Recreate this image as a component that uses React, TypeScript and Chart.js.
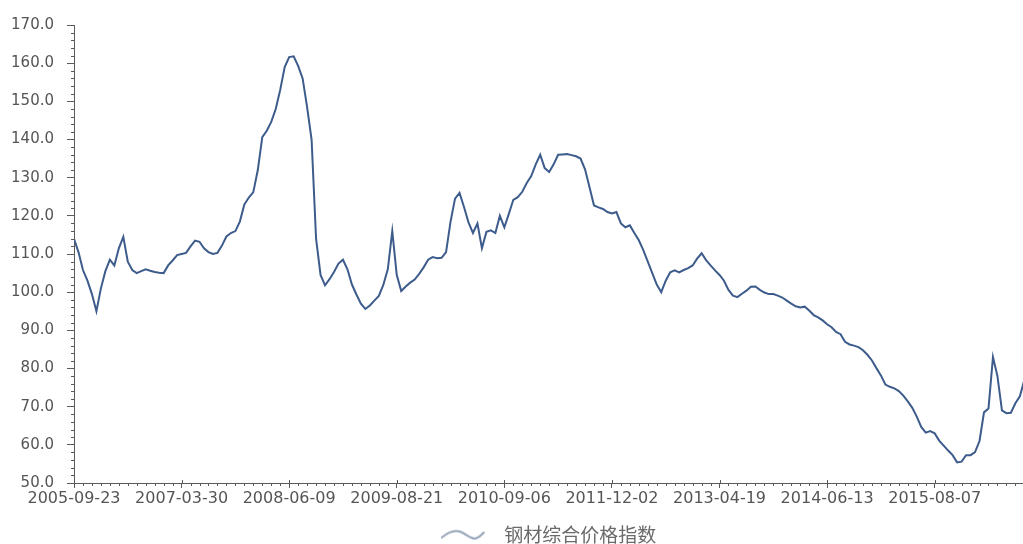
import React, { useEffect, useRef } from "react";
import { Chart, registerables } from "chart.js";

Chart.register(...registerables);

// ---- data ----
const xTickLabels = [
  "2005-09-23",
  "2007-03-30",
  "2008-06-09",
  "2009-08-21",
  "2010-09-06",
  "2011-12-02",
  "2013-04-19",
  "2014-06-13",
  "2015-08-07",
];
const pointsPerTick = 24;
const seriesName = "钢材综合价格指数";
const indexValues = [
  114, 110.5, 105.8, 103, 99.5, 95, 101, 105.5, 108.5, 107,
  111.5, 114.5, 108, 105.8, 105, 105.5, 106, 105.6, 105.3, 105.1,
  105, 107, 108.3, 109.7, 110, 110.3, 112, 113.5, 113.2, 111.5,
  110.5, 110, 110.3, 112.2, 114.6, 115.5, 116, 118.5, 123, 124.8,
  126.2, 132, 140.6, 142.3, 144.6, 148, 153, 159, 161.6, 161.8,
  159.3, 156, 148.5, 140, 114, 104.5, 101.8, 103.4, 105.3, 107.5,
  108.5, 106, 102, 99.4, 97, 95.6, 96.5, 97.8, 99, 101.9,
  106, 116, 104.5, 100.3, 101.5, 102.5, 103.3, 104.8, 106.5, 108.5,
  109.2, 108.9, 109, 110.5, 118.5, 124.5, 126, 122.3, 118.3, 115.5,
  118, 111.5, 115.8, 116.2, 115.5, 120, 117, 120.5, 124.2, 124.9,
  126.3, 128.6, 130.4, 133.5, 136, 132.5, 131.5, 133.5, 136, 136.1,
  136.2, 135.9, 135.6, 135, 132.2, 127.5, 122.7, 122.2, 121.8, 121,
  120.6, 121, 118, 117, 117.5, 115.5, 113.6, 111, 108, 105,
  102, 100, 103, 105.2, 105.7, 105.2, 105.8, 106.3, 107, 108.8,
  110.2, 108.4, 107, 105.7, 104.5, 103, 100.6, 99.1, 98.7, 99.6,
  100.4, 101.4, 101.5, 100.6, 99.9, 99.5, 99.5, 99.1, 98.6, 97.8,
  97, 96.3, 96, 96.2, 95.2, 94, 93.4, 92.6, 91.6, 90.8,
  89.6, 89, 87, 86.3, 86, 85.6, 84.8, 83.6, 82.1, 80.1,
  78.2, 75.8, 75.2, 74.8, 74.1, 72.9, 71.4, 69.7, 67.4, 64.7,
  63.2, 63.6, 63, 61.1, 59.8, 58.5, 57.3, 55.4, 55.6, 57.3,
  57.3, 58.1, 61, 68.5, 69.5, 83, 78, 69, 68.3, 68.4,
  70.9, 72.7, 77,
];
const yMin = 50;
const yMax = 170;
const yStep = 10;
const yMinorStep = 2;
const xMinorStep = 2;
const xVisibleMax = 211.7;

// ---- styles ----
const lineColor = "#3d5c8c";
const axisColor = "#5a5a5a";
const textColor = "#555555";
const legendTextColor = "#6a6a6a";
const waveColor = "#93a2b8";

function makeWaveIcon(): HTMLCanvasElement {
  const c = document.createElement("canvas");
  c.width = 54;
  c.height = 14;
  const g = c.getContext("2d")!;
  g.strokeStyle = waveColor;
  g.lineWidth = 2;
  g.lineCap = "round";
  g.beginPath();
  g.moveTo(1, 10);
  g.bezierCurveTo(7, 5, 13, 2, 19, 4);
  g.bezierCurveTo(25, 6, 30, 12, 35, 11);
  g.bezierCurveTo(39, 10, 41, 7, 43, 5);
  g.stroke();
  return c;
}

const minorTicksPlugin = {
  id: "minorTicks",
  afterDraw(chart: any) {
    const { ctx, chartArea, scales } = chart;
    const xs = scales.x;
    const ys = scales.y;
    ctx.save();
    ctx.strokeStyle = axisColor;
    ctx.lineWidth = 1;
    ctx.beginPath();
    for (let v = yMin; v <= yMax; v += yMinorStep) {
      if (v % yStep === 0) continue;
      const py = Math.round(ys.getPixelForValue(v)) + 0.5;
      ctx.moveTo(chartArea.left - 3, py);
      ctx.lineTo(chartArea.left + 1, py);
    }
    for (let i = 0; i <= xVisibleMax; i += xMinorStep) {
      const px = Math.round(xs.getPixelForValue(i)) + 0.5;
      if (i % pointsPerTick === 0) {
        ctx.moveTo(px, chartArea.bottom - 3);
        ctx.lineTo(px, chartArea.bottom);
      } else {
        ctx.moveTo(px, chartArea.bottom);
        ctx.lineTo(px, chartArea.bottom + 3);
      }
    }
    ctx.stroke();
    ctx.restore();
  },
};

export default function App() {
  const canvasRef = useRef<HTMLCanvasElement | null>(null);

  useEffect(() => {
    if (!canvasRef.current) return;
    Chart.defaults.font.family = "'DejaVu Sans', 'Noto Sans CJK SC', sans-serif";
    const wave = makeWaveIcon();
    const chart = new Chart(canvasRef.current, {
      type: "line",
      data: {
        datasets: [
          {
            label: seriesName,
            data: indexValues.map((v, i) => ({ x: i, y: v })),
            borderColor: lineColor,
            backgroundColor: lineColor,
            borderWidth: 2,
            pointRadius: 0,
            tension: 0,
            fill: false,
          },
        ],
      },
      options: {
        animation: false,
        responsive: true,
        maintainAspectRatio: false,
        layout: { padding: { top: 25, right: 0, bottom: -10, left: 0 } },
        plugins: {
          tooltip: { enabled: false },
          legend: {
            position: "bottom",
            fullSize: false,
            labels: {
              usePointStyle: true,
              pointStyle: wave as any,
              pointStyleWidth: 54,
              padding: 6,
              color: legendTextColor,
              font: { size: 19, family: "'Noto Sans CJK SC', sans-serif" },
            },
          },
        },
        scales: {
          x: {
            type: "linear",
            min: 0,
            max: xVisibleMax,
            afterBuildTicks: (s: any) => {
              s.ticks = xTickLabels.map((_, i) => ({ value: i * pointsPerTick }));
            },
            afterFit: (s: any) => {
              s.height = 36;
            },
            ticks: {
              autoSkip: false,
              maxRotation: 0,
              padding: 1,
              color: textColor,
              font: { size: 16 },
              callback: (_v: any, idx: number) => xTickLabels[idx] ?? "",
            },
            grid: { drawOnChartArea: false, tickLength: 5, color: axisColor },
            border: { color: axisColor, width: 1 },
          },
          y: {
            min: yMin,
            max: yMax,
            afterFit: (s: any) => {
              s.width = 74;
            },
            ticks: {
              stepSize: yStep,
              padding: 13,
              color: textColor,
              font: { size: 15 },
              callback: (v: any) => Number(v).toFixed(1),
            },
            grid: { drawOnChartArea: false, tickLength: 7, color: axisColor },
            border: { color: axisColor, width: 1 },
          },
        },
      },
      plugins: [minorTicksPlugin],
    });
    return () => chart.destroy();
  }, []);

  return (
    <div
      style={{
        position: "absolute",
        left: 0,
        top: 0,
        width: "1023px",
        height: "544px",
        background: "#ffffff",
      }}
    >
      <canvas ref={canvasRef} />
    </div>
  );
}
